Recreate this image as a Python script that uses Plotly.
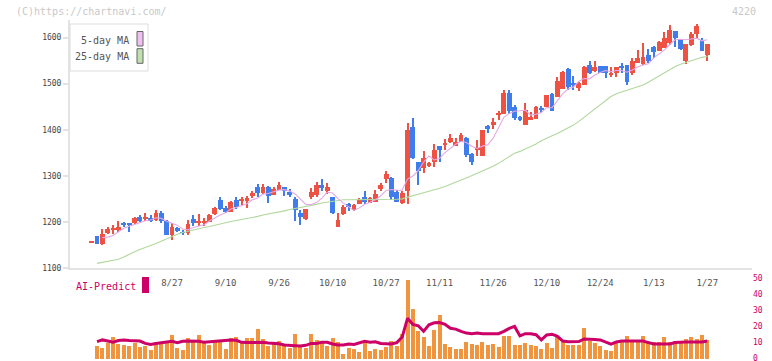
import plotly.graph_objects as go

# ---------------- data ----------------
OPEN = [1156, 1169, 1152, 1175, 1184, 1182, 1197, 1198, 1198, 1210,
        1207, 1209, 1204, 1220, 1202, 1172, 1186, 1178, 1177, 1206,
        1198, 1199, 1200, 1217, 1247, 1230, 1222, 1248, 1245, 1245,
        1257, 1276, 1263, 1275, 1259, 1270, 1275, 1265, 1250, 1219,
        1206, 1253, 1259, 1280, 1268, 1254, 1190, 1218, 1239, 1226,
        1239, 1253, 1242, 1244, 1271, 1294, 1296, 1265, 1242, 1268,
        1405, 1329, 1318, 1322, 1331, 1365, 1368, 1373, 1365, 1374,
        1383, 1347, 1357, 1343, 1408, 1411, 1434, 1435, 1480, 1450,
        1428, 1410, 1421, 1424, 1448, 1450, 1478, 1471, 1489, 1532,
        1502, 1491, 1498, 1540, 1527, 1538, 1538, 1520, 1524, 1538,
        1540, 1524, 1545, 1542, 1562, 1580, 1571, 1578, 1589, 1614,
        1595, 1549, 1584, 1608, 1595, 1561]
HIGH = [1156, 1170, 1185, 1189, 1193, 1202, 1199, 1198, 1210, 1215,
        1219, 1215, 1226, 1224, 1204, 1198, 1190, 1182, 1204, 1214,
        1217, 1208, 1217, 1232, 1255, 1234, 1245, 1255, 1255, 1256,
        1267, 1282, 1282, 1277, 1275, 1286, 1276, 1271, 1253, 1226,
        1229, 1274, 1286, 1293, 1284, 1255, 1219, 1237, 1240, 1238,
        1251, 1267, 1254, 1269, 1285, 1310, 1298, 1269, 1267, 1415,
        1426, 1330, 1354, 1331, 1370, 1365, 1380, 1391, 1383, 1393,
        1384, 1349, 1378, 1400, 1411, 1425, 1441, 1486, 1486, 1454,
        1430, 1457, 1439, 1451, 1452, 1476, 1479, 1515, 1527, 1533,
        1516, 1503, 1538, 1548, 1549, 1539, 1539, 1535, 1537, 1544,
        1541, 1556, 1574, 1589, 1575, 1582, 1592, 1612, 1627, 1615,
        1596, 1586, 1611, 1630, 1600, 1587]
LOW = [1156, 1152, 1150, 1173, 1173, 1179, 1188, 1179, 1195, 1199,
       1203, 1199, 1202, 1198, 1171, 1160, 1178, 1171, 1172, 1192,
       1192, 1191, 1199, 1216, 1226, 1219, 1221, 1228, 1237, 1230,
       1252, 1253, 1261, 1240, 1258, 1269, 1257, 1253, 1203, 1193,
       1205, 1250, 1255, 1266, 1260, 1217, 1188, 1216, 1224, 1224,
       1238, 1238, 1241, 1243, 1266, 1285, 1247, 1243, 1239, 1239,
       1336, 1279, 1307, 1320, 1320, 1329, 1355, 1372, 1364, 1373,
       1341, 1324, 1344, 1342, 1393, 1402, 1421, 1434, 1435, 1420,
       1419, 1410, 1420, 1423, 1437, 1449, 1440, 1470, 1488, 1486,
       1486, 1485, 1497, 1521, 1526, 1523, 1513, 1514, 1515, 1524,
       1498, 1519, 1544, 1540, 1545, 1555, 1570, 1577, 1584, 1580,
       1574, 1542, 1582, 1600, 1570, 1550]
CLOSE = [1156, 1152, 1173, 1185, 1187, 1190, 1195, 1195, 1208, 1203,
         1211, 1203, 1219, 1203, 1172, 1189, 1182, 1176, 1196, 1197,
         1200, 1201, 1215, 1231, 1229, 1222, 1243, 1232, 1250, 1251,
         1263, 1262, 1275, 1257, 1271, 1280, 1267, 1259, 1226, 1210,
         1228, 1265, 1280, 1274, 1275, 1219, 1204, 1232, 1232, 1237,
         1247, 1244, 1252, 1260, 1280, 1305, 1254, 1244, 1262, 1399,
         1339, 1311, 1338, 1328, 1356, 1357, 1372, 1383, 1374, 1388,
         1345, 1331, 1359, 1399, 1402, 1417, 1437, 1480, 1441, 1426,
         1421, 1443, 1428, 1450, 1444, 1475, 1441, 1506, 1526, 1493,
         1498, 1502, 1537, 1522, 1535, 1524, 1524, 1524, 1536, 1535,
         1504, 1549, 1556, 1558, 1548, 1569, 1591, 1600, 1616, 1600,
         1575, 1585, 1608, 1625, 1571, 1586]
MA5 = [None, None, 1166, 1167, 1170.6, 1177.4, 1186, 1190.4, 1195, 1198.2,
       1202.4, 1204, 1208.8, 1207.8, 1201.6, 1197.2, 1193, 1184.4, 1183, 1188,
       1190.2, 1194, 1201.8, 1208.8, 1215.2, 1219.6, 1228, 1231.4, 1235.2, 1239.6,
       1247.8, 1251.6, 1260.2, 1261.6, 1265.6, 1269, 1270, 1266.8, 1260.6, 1248.4,
       1238, 1237.6, 1241.8, 1251.4, 1264.4, 1262.6, 1250.4, 1240.8, 1232.4, 1224.8,
       1230.4, 1238.4, 1242.4, 1248, 1256.6, 1268.2, 1270.2, 1268.6, 1269, 1292.8,
       1299.6, 1311, 1329.8, 1343, 1334.4, 1338, 1350.2, 1359.2, 1368.4, 1374.8,
       1372.4, 1364.2, 1359.4, 1364.4, 1367.2, 1381.6, 1402.8, 1427, 1435.4, 1440.2,
       1441, 1442.2, 1431.8, 1433.6, 1437.2, 1448, 1447.6, 1463.2, 1478.4, 1488.2,
       1492.8, 1505, 1511.2, 1510.4, 1518.8, 1524, 1528.4, 1525.8, 1528.6, 1528.6,
       1524.6, 1529.6, 1536, 1540.4, 1543, 1556, 1564.4, 1573.2, 1584.8, 1595.2,
       1596.4, 1595.2, 1596.8, 1598.6, 1592.8, 1595]
MA25 = [None, 1110, 1112, 1114, 1116, 1119, 1124, 1130, 1135, 1140,
        1145, 1149, 1153, 1158, 1164, 1169, 1173, 1177, 1180, 1183,
        1186, 1188, 1190, 1193, 1196, 1198, 1201, 1203, 1205, 1207,
        1209, 1212, 1215, 1217, 1219, 1222, 1224, 1227, 1229, 1232,
        1234, 1236, 1238, 1241, 1243, 1245, 1247, 1248, 1248, 1248,
        1248, 1248, 1248, 1249, 1249, 1249, 1249, 1249, 1250, 1254,
        1257, 1260, 1263, 1266, 1269, 1273, 1277, 1282, 1286, 1291,
        1295, 1300, 1305, 1310, 1316, 1321, 1327, 1334, 1341, 1349,
        1353, 1358, 1363, 1369, 1376, 1382, 1387, 1392, 1398, 1403,
        1410, 1418, 1427, 1436, 1445, 1454, 1463, 1472, 1478, 1482,
        1486, 1489, 1493, 1497, 1503, 1510, 1517, 1524, 1530, 1537,
        1542, 1546, 1550, 1554, 1557, 1559]
VOLUME = [None, 8.0, 6.5, 10.1, 13.7, 9.3, 8.6, 8.0, 9.7, 7.4,
          8.0, 5.5, 10.5, 9.3, 10.3, 14.9, 6.7, 5.5, 13.1, 10.3,
          14.9, 10.5, 8.4, 10.3, 10.5, 6.1, 13.1, 13.7, 10.3, 13.1,
          13.1, 18.7, 12.4, 8.0, 10.5, 11.2, 9.3, 6.7, 15.5, 8.4,
          6.7, 15.5, 11.8, 10.3, 7.8, 13.1, 10.5, 3.0, 6.7, 6.1,
          4.3, 11.2, 4.9, 6.1, 5.5, 7.4, 11.2, 8.0, 15.5, 49.6,
          31.3, 17.5, 13.7, 8.0, 18.1, 27.5, 9.3, 7.4, 6.1, 6.1,
          10.5, 9.3, 8.6, 10.5, 8.6, 9.3, 7.4, 14.3, 14.3, 8.6,
          8.6, 9.9, 8.6, 8.0, 6.1, 9.9, 6.7, 13.7, 10.5, 8.6,
          8.6, 8.6, 19.3, 11.2, 9.9, 8.0, 5.5, 4.9, 10.5, 11.2,
          14.3, 11.8, 11.2, 14.3, 11.2, 10.5, 10.5, 13.7, 10.5, 11.2,
          10.5, 12.4, 13.7, 12.4, 14.9, 11.8]
AI_PREDICT = [None, 10.1, 11.2, 10.5, 9.7, 10.8, 11.2, 10.8, 10.5, 10.5,
              9.0, 8.4, 9.0, 9.5, 10.0, 10.3, 9.5, 10.3, 10.5, 10.5,
              10.3, 9.7, 10.0, 10.5, 10.8, 11.2, 11.2, 11.0, 9.7, 9.5,
              9.7, 9.7, 9.7, 9.3, 9.0, 8.8, 8.0, 8.0, 7.6, 7.4,
              7.8, 9.0, 9.0, 9.7, 9.7, 8.6, 8.0, 8.0, 8.6, 8.3,
              9.5, 10.3, 9.8, 10.0, 9.0, 8.6, 8.6, 9.5, 13.0, 24.8,
              21.0, 20.1, 16.6, 20.7, 22.0, 22.1, 21.0, 18.5, 18.0, 16.6,
              15.5, 15.1, 15.5, 15.1, 15.1, 15.1, 15.1, 16.6, 18.5, 19.7,
              13.7, 15.1, 15.1, 14.5, 11.2, 14.3, 14.8, 13.5, 10.5, 10.0,
              9.9, 10.2, 11.8, 11.8, 11.5, 11.2, 9.9, 8.6, 9.9, 10.5,
              10.5, 10.5, 10.5, 10.5, 9.5, 8.6, 8.6, 8.6, 8.6, 9.5,
              9.9, 9.9, 9.9, 9.9, 9.9, 10.5]
DATE_TICK_DAYS = [15, 25, 35, 45, 55, 65, 75, 85, 95, 105, 115]
DATE_TICK_LABELS = ["8/27", "9/10", "9/26", "10/10", "10/27", "11/11",
                    "11/26", "12/10", "12/24", "1/13", "1/27"]
PRICE_TICKS = [1100, 1200, 1300, 1400, 1500, 1600]
AI_TICKS = [0, 10, 20, 30, 40, 50]

# ---------------- styling ----------------
RED, BLUE = "#EF5142", "#3F7DEC"
MONO = "DejaVu Sans Mono"
W, H = 772, 361
ML, MR, MT, MB = 70, 20, 20, 2
PW, PH = W - ML - MR, H - MT - MB


def px(xp):
    return (xp - ML) / PW


def py(yp):
    return (H - MB - yp) / PH


days = list(range(len(CLOSE)))
XR = [-4.05, 123.35]
up = [c >= o for o, c in zip(OPEN, CLOSE)]
colors = [RED if u else BLUE for u in up]
body_base = [min(o, c) for o, c in zip(OPEN, CLOSE)]
body_h = [max(abs(c - o), 1.3) for o, c in zip(OPEN, CLOSE)]
wick_h = [h - l for h, l in zip(HIGH, LOW)]

fig = go.Figure()
fig.add_trace(go.Scatter(x=days, y=MA25, mode="lines", line=dict(color="#B0D89C", width=1.1),
                         hoverinfo="skip"))
fig.add_trace(go.Scatter(x=days, y=MA5, mode="lines", line=dict(color="#E4A8E6", width=1.1),
                         hoverinfo="skip"))
fig.add_trace(go.Bar(x=days, y=wick_h, base=LOW, width=0.19, marker=dict(color=colors, line_width=0)))
fig.add_trace(go.Bar(x=days, y=body_h, base=body_base, width=0.9,
                     marker=dict(color=colors, line_width=0)))
fig.add_trace(go.Bar(x=days, y=VOLUME, width=0.75, xaxis="x3", yaxis="y2",
                     marker=dict(color="#F0953D", line_width=0)))
fig.add_trace(go.Scatter(x=days, y=AI_PREDICT, xaxis="x3", yaxis="y3", mode="lines",
                         line=dict(color="#CC0066", width=3)))

step = (XR[1] - XR[0]) / 11
grid_ticks = [XR[0] + 1e-6 + k * step for k in range(11)] + [XR[1] - 1e-6]
main_bottom = py(268)
vol_top = py(278.3)

annotations = [
    dict(x=px(14), y=py(12), xref="paper", yref="paper", xanchor="left", yanchor="middle",
         text="(C)https://chartnavi.com/", showarrow=False, font=dict(family=MONO, size=10, color="#c8c8c8")),
    dict(x=px(758), y=py(12), xref="paper", yref="paper", xanchor="right", yanchor="middle",
         text="4220", showarrow=False, font=dict(family=MONO, size=10, color="#c8c8c8")),
    dict(x=px(131), y=py(40.7), xref="paper", yref="paper", xanchor="right", yanchor="middle",
         text="5-day MA", showarrow=False, font=dict(family=MONO, size=10, color="#555")),
    dict(x=px(131), y=py(57), xref="paper", yref="paper", xanchor="right", yanchor="middle",
         text="25-day MA", showarrow=False, font=dict(family=MONO, size=10, color="#555")),
    dict(x=px(74), y=py(286), xref="paper", yref="paper", xanchor="left", yanchor="middle",
         text="AI-Predict", showarrow=False, font=dict(family=MONO, size=10, color="#CC0066")),
]
shapes = [
    dict(type="rect", xref="paper", yref="paper", x0=px(70), x1=px(148), y0=py(71), y1=py(24),
         fillcolor="white", line=dict(color="#dddddd", width=1), layer="above"),
    dict(type="rect", xref="paper", yref="paper", x0=px(137), x1=px(143), y0=py(46), y1=py(31.5),
         fillcolor="#F0C0F0", line=dict(color="#666", width=1), layer="above"),
    dict(type="rect", xref="paper", yref="paper", x0=px(137), x1=px(143), y0=py(63.3), y1=py(48.7),
         fillcolor="#C0E0B0", line=dict(color="#666", width=1), layer="above"),
    dict(type="rect", xref="paper", yref="paper", x0=px(142), x1=px(149), y0=py(293), y1=py(277),
         fillcolor="#CC0066", line=dict(width=0), layer="above"),
]

fig.update_layout(
    width=W, height=H, margin=dict(l=ML, r=MR, t=MT, b=MB, autoexpand=False),
    paper_bgcolor="white", plot_bgcolor="white", showlegend=False, barmode="overlay",
    bargap=0,
    xaxis=dict(domain=[0, 1], range=XR, anchor="y", showline=True, linecolor="#e3e3e3", linewidth=2,
               tickvals=DATE_TICK_DAYS, ticktext=DATE_TICK_LABELS, ticks="", ticklabelstandoff=5,
               tickfont=dict(family=MONO, size=9, color="#555"), showgrid=False, zeroline=False,
               automargin=False),
    xaxis2=dict(overlaying="x", anchor="y", range=XR, tickvals=grid_ticks, ticks="outside", ticklen=6,
                tickwidth=2, tickcolor="#e3e3e3", showticklabels=False, showgrid=False,
                zeroline=False, showline=False, side="bottom", automargin=False),
    yaxis=dict(domain=[main_bottom, 1], range=[1100, 1638], anchor="x", showline=True,
               linecolor="#e3e3e3", linewidth=2, ticks="outside", ticklen=5, tickcolor="#e3e3e3",
               tickwidth=2, tickvals=PRICE_TICKS, tickfont=dict(family=MONO, size=8, color="#444"),
               showgrid=False, zeroline=False, automargin=False),
    xaxis3=dict(domain=[0, 1], range=XR, anchor="y2", visible=False, automargin=False),
    yaxis2=dict(domain=[0, vol_top], range=[0, 50.82], anchor="x3", visible=False, automargin=False),
    yaxis3=dict(overlaying="y2", anchor="x3", side="right", range=[-0.82, 50], tickvals=AI_TICKS,
                ticks="", showline=False, showgrid=False, zeroline=False, automargin=False,
                ticklabeloverflow="allow",
                tickfont=dict(family=MONO, size=8, color="#CC0066")),
    annotations=annotations, shapes=shapes,
)

fig.write_html("out.html", config={"displayModeBar": False},
               post_script="document.body.style.margin='0';document.body.style.padding='0';")
